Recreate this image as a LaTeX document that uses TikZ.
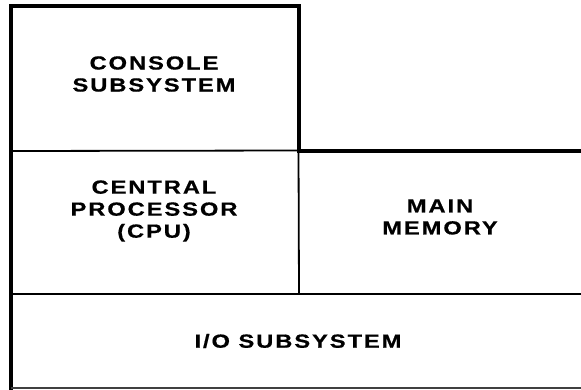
\documentclass[tikz,border=0pt]{standalone}
\usepackage{fontspec}
\setmainfont{Liberation Sans}
\newfontfamily\lblfont{Liberation Sans Bold}[FakeStretch=1.25,LetterSpace=10,FakeBold=0.6]
\begin{document}
\begin{tikzpicture}[x=1pt,y=-1pt,
  thickln/.style={line width=4pt,line cap=rect,line join=miter},
  thinln/.style={line width=1.8pt},
  lbl/.style={align=center,inner sep=0pt,font=\lblfont\fontsize{19}{22}\selectfont}]
\useasboundingbox (0,0) rectangle (581,389);
% frame coordinates
\coordinate (tl) at (10.5,6);
\coordinate (tr) at (298.5,6);
\coordinate (cr) at (298.5,150.5);
\coordinate (cl) at (10.5,151);
\coordinate (mr) at (581,150.5);
\coordinate (pb) at (299,294);
\coordinate (il) at (10.5,294);
\coordinate (ir) at (581,294);
\coordinate (bl) at (10.5,388);
\coordinate (br) at (581,388);
% lines
\draw[thickln] (bl) -- (tl) -- (tr) -- (cr);
\draw[thickln,line cap=butt] (cr) -- (mr);
\draw[thinln] (cl) -- (cr);
\draw[thinln] (cr) -- (pb);
\draw[thinln] (il) -- (ir);
\draw[line width=1.5pt,black!75] (bl) -- (br);
% labels
\node[lbl] (console) at (154,74) {CONSOLE\\SUBSYSTEM};
\node[lbl] (cpu) at (154,211) {CENTRAL\\PROCESSOR\\(CPU)};
\node[lbl] (mem) at (440,217) {MAIN\\MEMORY};
\node[lbl] (io) at (298,341) {I/O SUBSYSTEM};
\end{tikzpicture}
\end{document}
